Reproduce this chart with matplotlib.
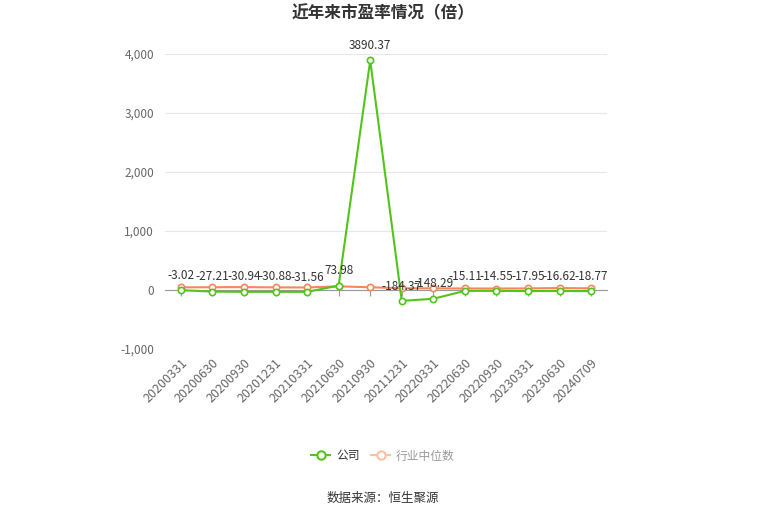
import matplotlib
matplotlib.use("Agg")
import matplotlib.pyplot as plt
from matplotlib.lines import Line2D

plt.rcParams['font.family'] = ['Noto Sans CJK SC', 'DejaVu Sans']

categories = ["20200331", "20200630", "20200930", "20201231", "20210331", "20210630",
              "20210930", "20211231", "20220331", "20220630", "20220930", "20230331",
              "20230630", "20240709"]
company = [-3.02, -27.21, -30.94, -30.88, -31.56, 73.98, 3890.37, -184.37, -148.29,
           -15.11, -14.55, -17.95, -16.62, -18.77]
industry = [45, 47, 49, 44, 43, 62, 46, 30, 28, 26, 25, 27, 33, 28]
yticks = [-1000, 0, 1000, 2000, 3000, 4000]

green = '#52c41a'
orange = '#f5875a'

fig = plt.figure(figsize=(7.65, 5.17), dpi=100)
ax = fig.add_axes([165/765, 1-349/517, (607-165)/765, (349-54)/517])

x = list(range(len(categories)))
ax.plot(x, industry, color=orange, lw=1.5, marker='o', ms=4.5, mfc='white', mec=orange, mew=1.2, zorder=3)
ax.plot(x, company, color=green, lw=1.5, marker='o', ms=4.5, mfc='white', mec=green, mew=1.2, zorder=4)

for xi, v in zip(x, company):
    ax.annotate(f"{v:.2f}", (xi, v), xytext=(0, 6), textcoords='offset points',
                ha='center', va='bottom', fontsize=8.5, color='#333333', zorder=5)

ax.set_xlim(-0.5, len(categories) - 0.5)
ax.set_ylim(-1000, 4000)
ax.set_yticks(yticks)
ax.set_yticklabels([f"{t:,}" for t in yticks], fontsize=8.5, color='#666666')
ax.set_xticks(x)
ax.set_xticklabels(categories)
ax.grid(axis='y', color='#e6e6f0', lw=0.8)
ax.set_axisbelow(True)
for s in ['top', 'right', 'left']:
    ax.spines[s].set_visible(False)
ax.spines['bottom'].set_position(('data', 0))
ax.spines['bottom'].set_color('#999999')
ax.tick_params(axis='y', length=0, pad=8)
ax.tick_params(axis='x', length=4, color='#999999', pad=44)
for lab in ax.get_xticklabels():
    lab.set_rotation(45)
    lab.set_rotation_mode('anchor')
    lab.set_ha('right')
    lab.set_va('top')
    lab.set_fontsize(9)
    lab.set_color('#666666')

fig.text(383/765, 1-13/517, "近年来市盈率情况（倍）", ha='center', va='center', fontsize=12,
         fontweight='bold', color='#333333')
fig.text(383/765, 1-498/517, "数据来源：恒生聚源", ha='center', va='center', fontsize=9, color='#333333')

h1 = Line2D([], [], color=green, lw=1.5, marker='o', ms=6, mfc='white', mec=green, mew=1.5)
h2 = Line2D([], [], color='#ffbfa5', lw=1.5, marker='o', ms=6, mfc='white', mec='#ffbfa5', mew=1.5)
leg = fig.legend([h1, h2], ["公司", "行业中位数"], loc='center', bbox_to_anchor=(383/765, 1-456/517),
                 ncol=2, frameon=False, fontsize=8.5, handlelength=1.6, columnspacing=1.0, handletextpad=0.5)
leg.get_texts()[0].set_color('#333333')
leg.get_texts()[1].set_color('#999999')

fig.savefig("out.png", dpi=100)
